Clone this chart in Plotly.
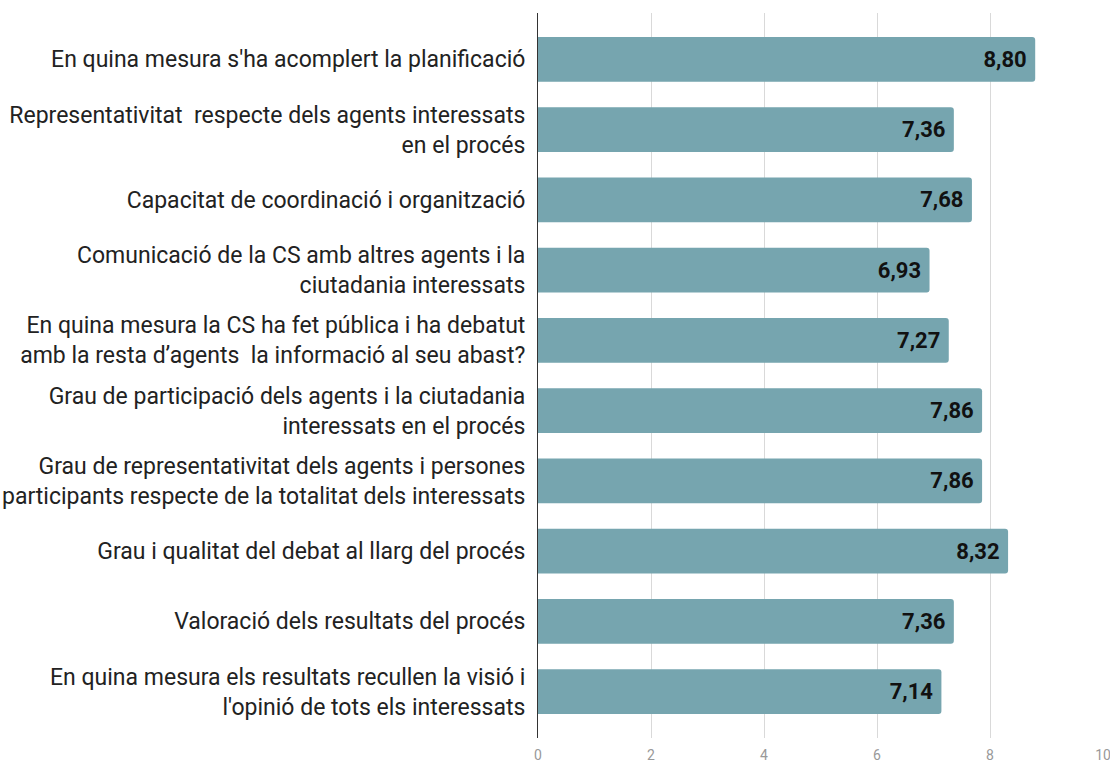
import plotly.graph_objects as go

categories = [
    "En quina mesura s'ha acomplert la planificació",
    "Representativitat  respecte dels agents interessats<br>en el procés",
    "Capacitat de coordinació i organització",
    "Comunicació de la CS amb altres agents i la<br>ciutadania interessats",
    "En quina mesura la CS ha fet pública i ha debatut<br>amb la resta d’agents  la informació al seu abast?",
    "Grau de participació dels agents i la ciutadania<br>interessats en el procés",
    "Grau de representativitat dels agents i persones<br>participants respecte de la totalitat dels interessats",
    "Grau i qualitat del debat al llarg del procés",
    "Valoració dels resultats del procés",
    "En quina mesura els resultats recullen la visió i<br>l'opinió de tots els interessats",
]
values = [8.80, 7.36, 7.68, 6.93, 7.27, 7.86, 7.86, 8.32, 7.36, 7.14]
tick_vals = [0, 2, 4, 6, 8, 10]

fig = go.Figure(
    go.Bar(
        y=categories,
        x=values,
        orientation="h",
        marker=dict(color="#76a5af", cornerradius=3, line=dict(width=0)),
        texttemplate="<b>%{x:.2f}</b>\u00a0",
        textposition="inside",
        insidetextanchor="end",
        textfont=dict(family="Roboto", size=22, color="#111111"),
        constraintext="none",
        hoverinfo="skip",
    )
)

fig.update_layout(
    width=1110,
    height=762,
    margin=dict(l=538, r=7, t=13, b=24, autoexpand=False),
    paper_bgcolor="white",
    plot_bgcolor="white",
    separators=",.",
    bargap=0.36,
    showlegend=False,
    font=dict(family="Roboto", color="#222222"),
)
fig.update_xaxes(
    range=[0, 10],
    tickvals=tick_vals,
    ticktext=[str(v) for v in tick_vals],
    showgrid=True,
    gridcolor="#d9d9d9",
    gridwidth=1,
    zeroline=False,
    showline=False,
    tickfont=dict(family="Roboto", size=14, color="#999999"),
    ticks="",
    ticklabelstandoff=7,
    ticklabeloverflow="allow",
    automargin=False,
    fixedrange=True,
)
fig.update_yaxes(
    autorange=False,
    range=[9.66, -0.66],
    categoryorder="array",
    categoryarray=categories,
    showline=True,
    linecolor="#333333",
    linewidth=1,
    showgrid=False,
    ticks="",
    ticklabelstandoff=7,
    tickfont=dict(family="Roboto", size=23, color="#222222"),
    automargin=False,
    fixedrange=True,
)

fig.write_html(
    "out.html",
    config={"displayModeBar": False, "staticPlot": True},
    post_script="document.body.style.margin='0px';document.body.style.overflow='hidden';",
)
